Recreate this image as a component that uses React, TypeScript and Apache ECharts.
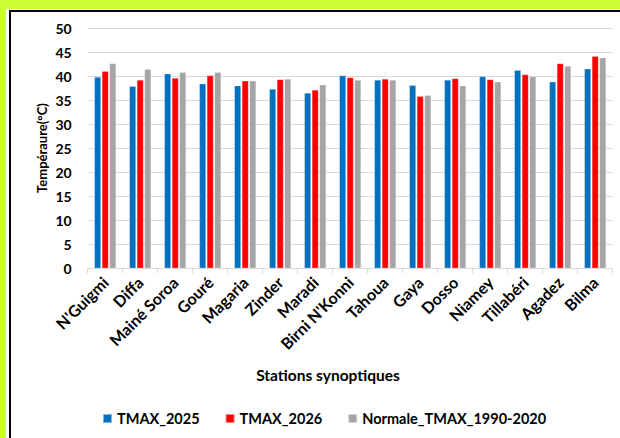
import React, { useEffect, useRef } from "react";
import * as echarts from "echarts";

const categories = [
  "N'Guigmi", "Diffa", "Mainé Soroa", "Gouré", "Magaria", "Zinder", "Maradi",
  "Birni N'Konni", "Tahoua", "Gaya", "Dosso", "Niamey", "Tillabéri", "Agadez", "Bilma",
];
const tmax2025 = [39.8, 37.9, 40.5, 38.4, 38.0, 37.3, 36.5, 40.1, 39.2, 38.1, 39.2, 39.9, 41.2, 38.8, 41.5];
const tmax2026 = [41.0, 39.2, 39.6, 40.1, 39.0, 39.3, 37.1, 39.7, 39.4, 35.8, 39.5, 39.3, 40.3, 42.6, 44.1];
const normale = [42.6, 41.4, 40.8, 40.8, 39.0, 39.4, 38.2, 39.2, 39.2, 36.0, 38.0, 38.8, 39.9, 42.1, 43.8];
const seriesNames = ["TMAX_2025", "TMAX_2026", "Normale_TMAX_1990-2020"];
const colors = ["#0070C0", "#FF0000", "#A5A5A5"];

const FONT = "Lato";

export default function App() {
  const ref = useRef<HTMLDivElement>(null);
  useEffect(() => {
    if (!ref.current) return;
    const chart = echarts.init(ref.current, undefined, { renderer: "svg" });
    const data = [tmax2025, tmax2026, normale];
    chart.setOption({
      animation: false,
      backgroundColor: "#ffffff",
      textStyle: { fontFamily: FONT },
      grid: { left: 87.7, right: 7.3, top: 28, bottom: 169.7, containLabel: false },
      legend: {
        data: seriesNames,
        left: 97,
        top: 406,
        itemWidth: 9,
        itemHeight: 9,
        itemGap: 25,
        icon: "rect",
        textStyle: { fontFamily: FONT, fontWeight: "bold", fontSize: 14.5, color: "#000" },
      },
      xAxis: {
        type: "category",
        data: categories,
        axisLine: { lineStyle: { color: "#D9D9D9", width: 1 } },
        axisTick: { show: true, length: 5, lineStyle: { color: "#D9D9D9" } },
        axisLabel: {
          rotate: 45,
          interval: 0,
          margin: 11,
          fontFamily: FONT,
          fontWeight: "bold",
          fontSize: 16,
          color: "#000",
        },
      },
      yAxis: {
        type: "value",
        min: 0,
        max: 50,
        interval: 5,
        axisLine: { show: false },
        axisTick: { show: false },
        splitLine: { lineStyle: { color: "#D9D9D9", width: 1 } },
        axisLabel: {
          margin: 16,
          fontFamily: FONT,
          fontWeight: "bold",
          fontSize: 14,
          color: "#000",
        },
      },
      series: data.map((d, i) => ({
        name: seriesNames[i],
        type: "bar",
        data: d,
        barGap: "15%",
        barCategoryGap: "38%",
        itemStyle: { color: colors[i], borderColor: "rgba(255,255,255,0.5)", borderWidth: 0.5 },
      })),
      graphic: [
        { type: "rect", shape: { x: 0, y: 0, width: 620, height: 9 }, style: { fill: "#CCFF33" }, silent: true },
        { type: "rect", shape: { x: 0, y: 0, width: 6, height: 438 }, style: { fill: "#CCFF33" }, silent: true },
        { type: "rect", shape: { x: 9, y: 10, width: 611, height: 2 }, style: { fill: "#000" }, silent: true },
        { type: "rect", shape: { x: 9, y: 10, width: 2, height: 428 }, style: { fill: "#000" }, silent: true },
        {
          type: "text",
          x: 42,
          y: 148,
          rotation: Math.PI / 2,
          style: {
            text: "Tempéraure(°C)",
            fontFamily: FONT,
            fontWeight: "bold",
            fontSize: 13,
            fill: "#000",
            align: "center",
            verticalAlign: "middle",
          },
        },
        {
          type: "text",
          x: 328,
          y: 375,
          style: {
            text: "Stations synoptiques",
            fontFamily: FONT,
            fontWeight: "bold",
            fontSize: 15.5,
            fill: "#000",
            align: "center",
            verticalAlign: "middle",
          },
        },
      ],
    });
    return () => chart.dispose();
  }, []);
  return (
    <div
      ref={ref}
      style={{ position: "fixed", left: 0, top: 0, width: 620, height: 438, background: "#fff" }}
    />
  );
}
